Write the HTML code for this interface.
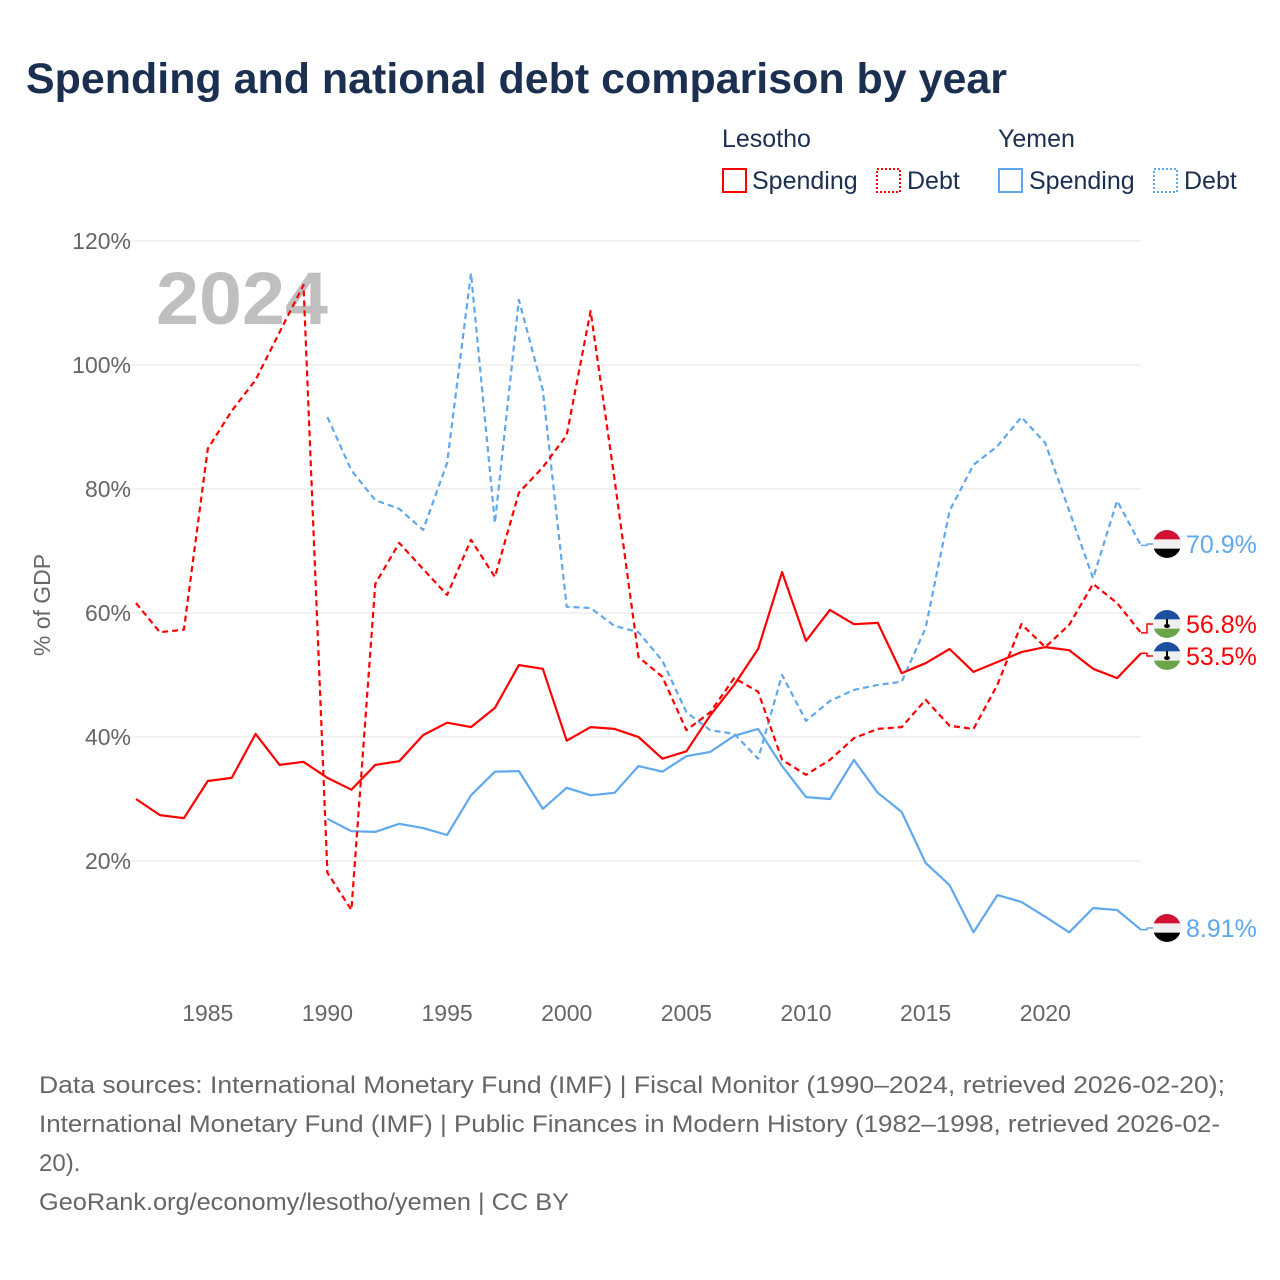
<!DOCTYPE html>
<html><head><meta charset="utf-8">
<style>
body{margin:0;background:#fff;font-family:"Liberation Sans",sans-serif;}
#wrap{position:relative;width:1280px;height:1280px;overflow:hidden;}
</style></head>
<body><div id="wrap">
<svg id="chart" width="1280" height="1280" xmlns="http://www.w3.org/2000/svg">
<text x="26" y="93" font-size="43" font-weight="bold" fill="#1b2f50" textLength="981" lengthAdjust="spacingAndGlyphs">Spending and national debt comparison by year</text>
<g font-size="25" fill="#1b2f50">
<text x="722" y="147">Lesotho</text>
<text x="998" y="147">Yemen</text>
<g><rect x="723" y="169" width="23" height="23" fill="none" stroke="#f00" stroke-width="2"/><text x="752" y="189">Spending</text></g>
<g><rect x="877" y="169" width="23" height="23" fill="none" stroke="#f00" stroke-width="2" stroke-dasharray="2,2"/><text x="907" y="189">Debt</text></g>
<g><rect x="999" y="169" width="23" height="23" fill="none" stroke="#5fa8ee" stroke-width="2"/><text x="1029" y="189">Spending</text></g>
<g><rect x="1154" y="169" width="23" height="23" fill="none" stroke="#5fa8ee" stroke-width="2" stroke-dasharray="2,2"/><text x="1184" y="189">Debt</text></g>
</g>
<g id="grid"></g>
<g id="yticks" font-size="23" fill="#666" text-anchor="end"></g>
<g id="xticks" font-size="23" fill="#666" text-anchor="middle"></g>
<text transform="translate(50,605) rotate(-90)" font-size="23" fill="#666" text-anchor="middle">% of GDP</text>
<text x="156" y="324" font-size="74" font-weight="bold" fill="#bfbfbf" textLength="172" lengthAdjust="spacingAndGlyphs">2024</text>
<g id="series"></g>
<g id="endlabels" font-size="25"></g>
<g font-size="24" fill="#666" lengthAdjust="spacingAndGlyphs">
<text x="39" y="1093" textLength="1186" lengthAdjust="spacingAndGlyphs">Data sources: International Monetary Fund (IMF) | Fiscal Monitor (1990–2024, retrieved 2026-02-20);</text>
<text x="39" y="1132" textLength="1181" lengthAdjust="spacingAndGlyphs">International Monetary Fund (IMF) | Public Finances in Modern History (1982–1998, retrieved 2026-02-</text>
<text x="39" y="1171">20).</text>
<text x="39" y="1210" textLength="530" lengthAdjust="spacingAndGlyphs">GeoRank.org/economy/lesotho/yemen | CC BY</text>
</g>
</svg>
<script>
const lesYears0 = 1982;
const yemYears0 = 1990;
const lesothoSpending = [30.0,27.4,26.9,32.9,33.4,40.5,35.5,36.0,33.4,31.5,35.5,36.1,40.3,42.3,41.6,44.7,51.6,51.0,39.4,41.6,41.3,40.0,36.5,37.7,43.5,48.4,54.2,66.6,55.5,60.5,58.2,58.4,50.3,51.9,54.2,50.5,52.1,53.7,54.5,54.0,51.0,49.5,53.5];
const lesothoDebt = [61.6,56.9,57.3,86.5,92.6,97.6,105.3,112.9,18.1,12.1,64.7,71.3,67.1,62.9,71.8,65.8,79.4,83.5,88.7,108.7,81.5,52.9,49.7,41.1,44.0,49.5,47.3,36.3,33.9,36.3,39.8,41.3,41.6,46.0,41.8,41.3,48.4,58.2,54.5,58.1,64.7,61.6,56.8];
const yemenSpending = [26.8,24.8,24.7,26.0,25.3,24.2,30.6,34.4,34.5,28.4,31.8,30.6,31.0,35.3,34.4,36.9,37.6,40.2,41.3,35.3,30.3,30.0,36.3,31.0,27.9,19.7,16.1,8.5,14.5,13.4,11.0,8.5,12.4,12.1,8.91];
const yemenDebt = [91.6,83.0,78.2,76.8,73.4,84.2,114.8,74.5,110.5,96.0,61.0,60.8,57.9,56.9,52.3,44.0,41.1,40.5,36.5,50.0,42.6,45.8,47.6,48.4,48.9,57.6,76.5,83.9,86.9,91.6,87.4,76.5,65.6,78.1,70.9];
const yTicks = [20,40,60,80,100,120];
const xTicks = [1985,1990,1995,2000,2005,2010,2015,2020];

const NS='http://www.w3.org/2000/svg';
const X0=136, X1=1141, YR0=1982, YR1=2024;
function xs(yr){return X0+(yr-YR0)*(X1-X0)/(YR1-YR0);}
function ys(v){return 985-v*6.2;}
function mk(tag,attrs,parent){const e=document.createElementNS(NS,tag);for(const k in attrs)e.setAttribute(k,attrs[k]);parent.appendChild(e);return e;}

const grid=document.getElementById('grid'), yt=document.getElementById('yticks'), xt=document.getElementById('xticks');
yTicks.forEach(v=>{
  const l=mk('line',{x1:110,x2:1141,y1:ys(v),y2:ys(v),stroke:'#e6e6e6','stroke-width':1},grid);
  
  
  const t=mk('text',{x:131,y:ys(v)+8},yt);t.textContent=v+'%';
  
  
});
xTicks.forEach(yr=>{
  const t=mk('text',{x:xs(yr),y:1021},xt);t.textContent=yr;
  
  
});
const ser=document.getElementById('series');
function line(data,start,color,dash,name){
  const pts=data.map((v,i)=>xs(start+i).toFixed(1)+','+ys(v).toFixed(1)).join(' ');
  const p=mk('polyline',{points:pts,fill:'none',stroke:color,'stroke-width':2.2,'stroke-linejoin':'round'},ser);
  if(dash)p.setAttribute('stroke-dasharray',dash);
  
  
}
line(yemenDebt,yemYears0,'#5fa8ee','6,4','line-yemen-debt');
line(yemenSpending,yemYears0,'#5fa8ee',null,'line-yemen-spending');
line(lesothoDebt,lesYears0,'#f00','6,4','line-lesotho-debt');
line(lesothoSpending,lesYears0,'#f00',null,'line-lesotho-spending');

const el=document.getElementById('endlabels');
function flag(cx,cy,type,g){
  const id='c'+Math.round(cy);
  const cp=mk('clipPath',{id:id},g);mk('circle',{cx:cx,cy:cy,r:14},cp);
  const f=mk('g',{'clip-path':'url(#'+id+')'},g);
  const cols=type==='yemen'?['#d21034','#f0f0f0','#000']:['#1c4fa0','#f0f0f0','#6aa54a'];
  cols.forEach((c,i)=>mk('rect',{x:cx-14,y:cy-14+i*28/3,width:28,height:28/3+0.5,fill:c},f));
  if(type==='lesotho'){mk('rect',{x:cx-1,y:cy-5,width:2,height:6,fill:'#000'},f);mk('ellipse',{cx:cx,cy:cy+2,rx:3,ry:2,fill:'#000'},f);}
}
function endLabel(v,labelY,color,type,txt,name){
  const g=mk('g',{},el);
  
  
  mk('polyline',{points:`${X1},${ys(v)} ${X1+6},${ys(v)} ${X1+6},${labelY} ${X1+12},${labelY}`,fill:'none',stroke:color,'stroke-width':1.5},g);
  flag(1167,labelY,type,g);
  const t=mk('text',{x:1186,y:labelY+9,fill:color},g);t.textContent=txt;
}
endLabel(yemenDebt[yemenDebt.length-1],544,'#5fa8ee','yemen','70.9%','end-label-yemen-debt');
endLabel(lesothoDebt[lesothoDebt.length-1],624,'#f00','lesotho','56.8%','end-label-lesotho-debt');
endLabel(lesothoSpending[lesothoSpending.length-1],656,'#f00','lesotho','53.5%','end-label-lesotho-spending');
endLabel(yemenSpending[yemenSpending.length-1],928,'#5fa8ee','yemen','8.91%','end-label-yemen-spending');
</script>
</div></body></html>
